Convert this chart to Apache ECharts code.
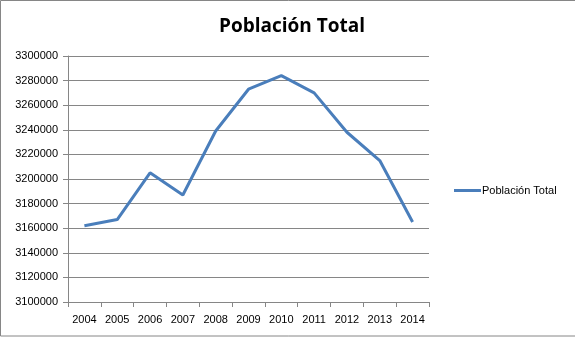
<!DOCTYPE html>
<html>
<head>
<meta charset="utf-8">
<script src="https://cdn.jsdelivr.net/npm/echarts@6/dist/echarts.min.js"></script>
<style>
  html, body { margin: 0; padding: 0; background: #fff; }
  #chart { width: 575px; height: 341px; }
</style>
</head>
<body>
<div id="chart"></div>
<script>
// Población total por año
const years = ['2004', '2005', '2006', '2007', '2008', '2009', '2010', '2011', '2012', '2013', '2014'];
const poblacion = [3162000, 3167000, 3205000, 3187000, 3239000, 3273000, 3284000, 3270000, 3238000, 3215000, 3165000];
const yMin = 3100000;
const yMax = 3300000;
const yStep = 20000;

const gray = '#868686';
const font = 'Liberation Sans, Arial, sans-serif';

const chart = echarts.init(document.getElementById('chart'), null, { renderer: 'canvas' });
chart.setOption({
  animation: false,
  backgroundColor: '#fff',
  title: {
    text: 'Población Total',
    left: 287,
    textAlign: 'center',
    top: 12,
    textStyle: { fontFamily: 'Open Sans, sans-serif', fontWeight: 'bold', fontSize: 19, color: '#000' }
  },
  legend: {
    data: ['Población Total'],
    left: 449,
    top: 180,
    orient: 'vertical',
    itemWidth: 27,
    itemHeight: 12,
    itemGap: 4,
    icon: 'path://M0,5 L27,5 L27,8 L0,8 Z',
    textStyle: { fontFamily: font, fontSize: 11, color: '#000', padding: [0, 0, 0, -4] }
  },
  grid: { left: 68, top: 56, right: 146, bottom: 39, containLabel: false },
  xAxis: {
    type: 'category',
    data: years,
    boundaryGap: true,
    axisLine: { lineStyle: { color: gray, width: 1 } },
    axisTick: { show: true, length: 5, lineStyle: { color: gray } },
    axisLabel: { fontFamily: font, fontSize: 11, color: '#000', margin: 12 }
  },
  yAxis: {
    type: 'value',
    min: yMin,
    max: yMax,
    interval: yStep,
    axisLine: { show: true, lineStyle: { color: gray, width: 1 } },
    axisTick: { show: true, length: 5, lineStyle: { color: gray } },
    axisLabel: { fontFamily: font, fontSize: 11, color: '#000', margin: 10, formatter: v => String(v) },
    splitLine: { show: true, lineStyle: { color: gray, width: 1 } }
  },
  series: [{
    name: 'Población Total',
    type: 'line',
    data: poblacion,
    symbol: 'none',
    lineStyle: { color: '#4A7EBB', width: 3 },
    itemStyle: { color: '#4A7EBB' }
  }],
  graphic: [{
    type: 'rect',
    shape: { x: 0.5, y: 0.5, width: 580, height: 335.5 },
    style: { fill: 'none', stroke: gray, lineWidth: 1 },
    silent: true
  }]
});
</script>
</body>
</html>
